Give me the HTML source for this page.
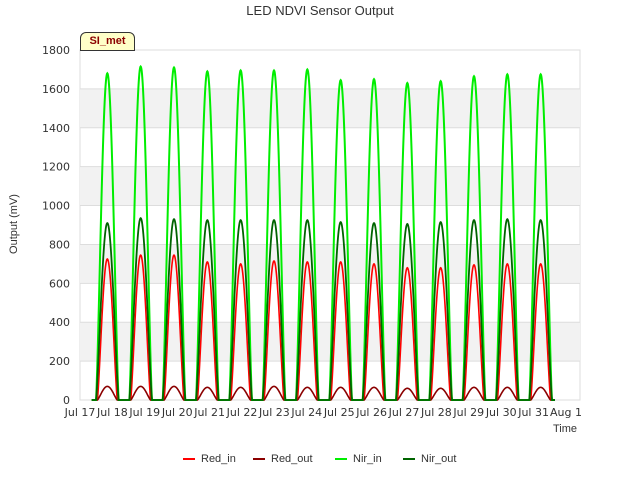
<!DOCTYPE html>
<html><head><meta charset="utf-8"><style>
body{margin:0;background:#fff;font-family:"Liberation Sans","DejaVu Sans",sans-serif}
svg text{font-family:"DejaVu Sans","Liberation Sans",sans-serif}
</style></head><body>
<svg id="c" width="640" height="480"></svg>
<script>
const dayLabels=["Jul 17","Jul 18","Jul 19","Jul 20","Jul 21","Jul 22","Jul 23","Jul 24","Jul 25","Jul 26","Jul 27","Jul 28","Jul 29","Jul 30","Jul 31","Aug 1"];
const yTicks=[0,200,400,600,800,1000,1200,1400,1600,1800];
const nirIn=[1680,1715,1710,1690,1695,1695,1700,1645,1650,1630,1640,1665,1675,1675];
const nirOut=[910,935,930,925,925,925,925,915,910,905,915,925,930,925];
const redIn=[725,745,745,710,700,715,710,710,700,680,680,695,700,700];
const redOut=[70,70,70,65,65,70,65,65,65,60,60,65,65,65];
const NS="http://www.w3.org/2000/svg",svg=document.getElementById("c");
const X0=80,X1=580,Y0=400,Y1=50;
const xs=d=>X0+d*(X1-X0)/15, ys=v=>Y0-v*(Y0-Y1)/1800;
function el(t,a,p){const e=document.createElementNS(NS,t);for(const k in a)e.setAttribute(k,a[k]);(p||svg).appendChild(e);return e;}
el("rect",{x:X0,y:Y1,width:X1-X0,height:Y0-Y1,fill:"#fff",stroke:"#ddd"});
for(let i=1;i<yTicks.length-1;i+=2){const b=el("rect",{x:X0,y:ys(yTicks[i+1]),width:X1-X0,height:ys(yTicks[i])-ys(yTicks[i+1]),fill:"#f2f2f2"});

}
yTicks.forEach(v=>{el("line",{x1:X0,x2:X1,y1:ys(v),y2:ys(v),stroke:"#ddd"});
const t=el("text",{x:70,y:ys(v)+4,"text-anchor":"end","font-size":11,fill:"#333"});t.textContent=v;

});
dayLabels.forEach((l,i)=>{const x=80+i*32.4;const t=el("text",{x:x,y:416,"text-anchor":"middle","font-size":11,fill:"#333"});t.textContent=l;

});
function series(arr,hw,color,name,w){let d="M"+xs(0.35)+","+ys(0);
const end=14.25;
for(let t=0.35;t<=end;t+=0.01){let v=0;const i=Math.round(t-0.82);
if(i>=0&&i<arr.length){const dt=t-(i+0.82);if(Math.abs(dt)<hw)v=arr[i]*Math.pow(Math.cos(Math.PI*dt/(2*hw)),1.3);}
d+="L"+xs(t).toFixed(2)+","+ys(v).toFixed(2);}
const p=el("path",{d:d,fill:"none",stroke:color,"stroke-width":w});

}
series(redIn,0.3,"#ff0000","red-in-line",1.6);
series(redOut,0.3,"#8b0000","red-out-line",1.6);
series(nirIn,0.34,"#00ee00","nir-in-line",2);
series(nirOut,0.34,"#006400","nir-out-line",1.8);
</script>
<div style="position:absolute;left:0;width:640px;top:3px;text-align:center;font-size:13px;color:#333">LED NDVI Sensor Output</div>
<div style="position:absolute;left:-16px;top:218px;transform:rotate(-90deg);font-size:11px;color:#333;width:60px;text-align:center">Output (mV)</div>
<div style="position:absolute;left:553px;top:423px;font-size:11px;color:#333">Time</div>
<div style="position:absolute;left:80px;top:32px;width:53px;height:17px;background:#ffffc8;border:1px solid #333;border-radius:6px 6px 0 0;font-size:11px;font-weight:bold;color:#8b0000;text-align:center;line-height:17px">SI_met</div>
<div style="position:absolute;left:183px;top:453px;font-size:11px;color:#333;display:flex;gap:0">
<span style="width:70px"><b style="display:inline-block;width:12px;height:2px;background:#f00;vertical-align:middle;margin-right:6px"></b>Red_in</span>
<span style="width:82px"><b style="display:inline-block;width:12px;height:2px;background:#8b0000;vertical-align:middle;margin-right:6px"></b>Red_out</span>
<span style="width:68px"><b style="display:inline-block;width:12px;height:2px;background:#0e0;vertical-align:middle;margin-right:6px"></b>Nir_in</span>
<span><b style="display:inline-block;width:12px;height:2px;background:#006400;vertical-align:middle;margin-right:6px"></b>Nir_out</span>
</div>
</body></html>
